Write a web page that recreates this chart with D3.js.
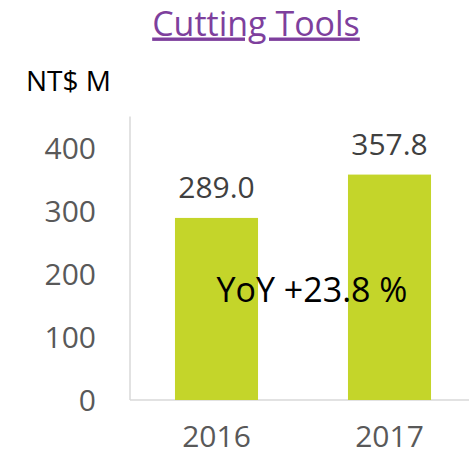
<!DOCTYPE html>
<html><head><meta charset="utf-8">
<script src="https://cdn.jsdelivr.net/npm/d3@7"></script>
<style>
html,body{margin:0;padding:0;background:#fff;}
svg{display:block;font-family:"Open Sans",sans-serif;}
</style></head>
<body>
<svg id="c" width="469" height="454"></svg>
<script>
const categories = ["2016", "2017"];
const values = [289.0, 357.8];
const valueLabels = ["289.0", "357.8"];
const yTicks = [0, 100, 200, 300, 400];
const title = "Cutting Tools";
const unitLabel = "NT$ M";
const yoyLabel = "YoY +23.8 %";

const svg = d3.select("#c");
const x = d3.scaleBand().domain(categories).range([130, 476]).paddingInner(0.52).paddingOuter(0.26);
const y = d3.scaleLinear().domain([0, 450]).range([400, 116.5]);

// title
svg.append("text").attr("x", 256).attr("y", 35.5).attr("text-anchor", "middle")
  .attr("font-size", 34).attr("fill", "#7E3F9D")
  .style("text-decoration", "underline")
  .text(title);

svg.append("text").attr("x", 26).attr("y", 91).attr("font-size", 28).attr("fill", "#000").text(unitLabel);

// axes lines
svg.append("line").attr("x1", 130).attr("x2", 130).attr("y1", y(450)).attr("y2", y(0))
  .attr("stroke", "#D9D9D9").attr("stroke-width", 1.5);
svg.append("line").attr("x1", 130).attr("x2", 469).attr("y1", y(0)).attr("y2", y(0))
  .attr("stroke", "#D9D9D9").attr("stroke-width", 1.5);

// y tick labels
const yAxis = d3.axisLeft(y).tickValues(yTicks).tickSize(0).tickPadding(0);
const gy = svg.append("g").attr("transform", "translate(96,0)").call(yAxis);
gy.select(".domain").remove();
gy.selectAll("text").attr("font-size", 30).attr("fill", "#595959").attr("font-family", "Open Sans, sans-serif").attr("dy", "0.36em");

// x labels
const xAxis = d3.axisBottom(x).tickSize(0).tickPadding(0);
const gx = svg.append("g").attr("transform", "translate(0,447)").call(xAxis);
gx.select(".domain").remove();
gx.selectAll("text").attr("font-size", 30).attr("fill", "#595959").attr("font-family", "Open Sans, sans-serif").attr("dy", 0).attr("y", 0);

// bars
svg.selectAll("rect.bar").data(values).join("rect").attr("class", "bar")
  .attr("x", (d, i) => x(categories[i])).attr("width", x.bandwidth())
  .attr("y", d => y(d)).attr("height", d => y(0) - y(d))
  .attr("fill", "#C4D52A");

// value labels
svg.selectAll("text.val").data(values).join("text").attr("class", "val")
  .attr("x", (d, i) => x(categories[i]) + x.bandwidth() / 2)
  .attr("y", d => y(d) - 19.5).attr("text-anchor", "middle")
  .attr("font-size", 30).attr("fill", "#404040")
  .text((d, i) => valueLabels[i]);

// YoY
svg.append("text").attr("x", 312).attr("y", 301.5).attr("text-anchor", "middle")
  .attr("font-size", 34).attr("fill", "#000").text(yoyLabel);
</script>
</body></html>
